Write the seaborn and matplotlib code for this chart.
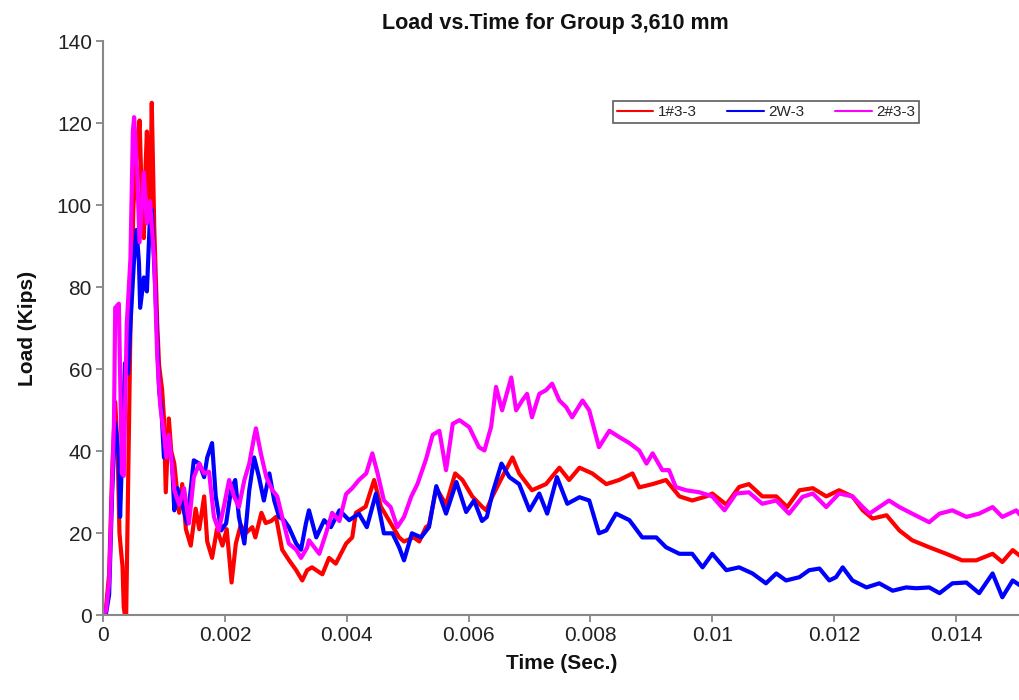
import numpy as np
import pandas as pd
import matplotlib
matplotlib.use("Agg")
import matplotlib.pyplot as plt
import seaborn as sns

# ---- data (time in ms, load in kips) ----
series_names = ["1#3-3", "2W-3", "2#3-3"]
series_colors = ["#FF0000", "#0000FF", "#FF00FF"]

t_red = [0, 0.05, 0.1, 0.15, 0.2, 0.24, 0.27, 0.3, 0.32, 0.34, 0.36, 0.38, 0.41, 0.45, 0.5, 0.55, 0.6, 0.63,
         0.67, 0.7, 0.72, 0.75, 0.77, 0.8, 0.84, 0.89, 0.92, 0.97, 1.0, 1.03, 1.08, 1.12, 1.17, 1.25, 1.3,
         1.36, 1.44, 1.52, 1.58, 1.66, 1.71, 1.79, 1.87, 1.96, 2.03, 2.11, 2.18, 2.26, 2.34, 2.45, 2.5, 2.6,
         2.67, 2.76, 2.84, 2.94, 3.05, 3.17, 3.27, 3.35, 3.43, 3.6, 3.71, 3.82, 3.99, 4.09, 4.15, 4.31, 4.45,
         4.56, 4.7, 4.86, 4.94, 5.1, 5.19, 5.3, 5.35, 5.47, 5.63, 5.78, 5.9, 6.06, 6.22, 6.29, 6.39, 6.55,
         6.72, 6.83, 7.04, 7.27, 7.49, 7.65, 7.82, 8.03, 8.26, 8.47, 8.69, 8.8, 9.02, 9.24, 9.46, 9.67, 9.9,
         10.0, 10.23, 10.44, 10.6, 10.82, 11.05, 11.23, 11.43, 11.65, 11.87, 12.08, 12.3, 12.47, 12.63,
         12.86, 13.07, 13.28, 13.56, 13.84, 14.1, 14.33, 14.6, 14.76, 14.93, 15.05]
y_red = [0, 2, 10, 35, 52, 40, 20, 15, 12, 2, 0, 0, 30, 70, 100, 112, 120.7, 105,
         92, 110, 118, 105, 97, 125, 95, 71, 61, 55, 48, 30, 48, 40, 37, 25, 32,
         21, 17, 26, 21, 29, 18, 14, 21, 17, 21, 8, 17.5, 22, 20, 21.5, 19, 25,
         22.5, 23, 24, 16, 13.5, 11, 8.5, 11, 11.7, 10, 14, 12.6, 17.5, 19, 25, 26.5, 33,
         26.5, 23, 19, 18, 19, 18, 21.5, 22, 31, 27, 34.6, 33, 29, 26.5, 25.6, 29, 33.7,
         38.5, 34.6, 30.5, 32, 36, 33, 36, 34.6, 32, 33, 34.6, 31.2, 32, 33, 29, 28, 29,
         29.7, 27, 31.3, 32, 29, 29, 26.4, 30.5, 31, 29, 30.5, 29, 25.6, 23.6,
         24.4, 20.7, 18.3, 16.6, 15, 13.4, 13.4, 15, 13, 15.9, 14.5]

t_blue = [0, 0.05, 0.1, 0.15, 0.2, 0.26, 0.28, 0.33, 0.36, 0.41, 0.45, 0.51, 0.55, 0.59, 0.61, 0.67, 0.72,
          0.77, 0.8, 0.86, 0.92, 0.96, 1.0, 1.08, 1.13, 1.17, 1.22, 1.3, 1.38, 1.49, 1.58, 1.66, 1.71, 1.79,
          1.85, 1.94, 2.02, 2.1, 2.17, 2.23, 2.32, 2.4, 2.48, 2.56, 2.64, 2.73, 2.81, 2.89, 2.97, 3.05, 3.17,
          3.25, 3.33, 3.38, 3.5, 3.63, 3.74, 3.88, 4.04, 4.2, 4.33, 4.48, 4.61, 4.75, 4.86, 4.94, 5.07, 5.22,
          5.35, 5.47, 5.63, 5.8, 5.96, 6.09, 6.22, 6.3, 6.39, 6.54, 6.67, 6.83, 7.0, 7.16, 7.29, 7.45, 7.62,
          7.82, 7.98, 8.14, 8.26, 8.42, 8.64, 8.85, 9.08, 9.24, 9.46, 9.67, 9.84, 10.0, 10.23, 10.44, 10.66,
          10.88, 11.05, 11.21, 11.43, 11.59, 11.76, 11.92, 12.03, 12.14, 12.3, 12.53, 12.74, 12.96, 13.18,
          13.35, 13.56, 13.73, 13.94, 14.17, 14.38, 14.6, 14.76, 14.93, 15.05]
y_blue = [0, 0.5, 5, 30, 47, 38.5, 24, 47, 61.5, 59, 71, 87, 94, 86, 75, 82.4, 79,
          97, 98.8, 79, 55, 50, 38.5, 42, 38, 25.6, 31, 27, 22.4, 37.8, 37, 33.7, 38.5, 42,
          29, 20.7, 22.4, 30.5, 33, 24, 17.5, 30.5, 38.5, 33.7, 28, 34.6, 28, 24, 23.2, 21.5, 17.5,
          16, 22.4, 25.6, 19, 23.2, 21.5, 25.6, 23.2, 24.8, 21.5, 29.7, 20, 20, 16.6, 13.4, 20, 19,
          21.5, 31.5, 24.8, 32.5, 25.2, 28, 23, 24, 29.7, 37, 33.7, 32, 25.6, 29.7, 24.8, 33.7, 27.2,
          28.8, 28, 20, 20.7, 24.8, 23.2, 19, 19, 16.6, 15, 15, 11.7, 15, 11, 11.7, 10.2,
          7.8, 10.2, 8.5, 9.3, 11, 11.4, 8.5, 9.3, 11.7, 8.5, 6.8, 7.8, 6, 6.8,
          6.6, 6.8, 5.4, 7.8, 8, 5.4, 10.2, 4.4, 8.5, 7.3]

t_mag = [0, 0.05, 0.1, 0.18, 0.2, 0.26, 0.31, 0.34, 0.39, 0.45, 0.49, 0.51, 0.56, 0.6, 0.67, 0.72, 0.77,
         0.84, 0.89, 0.94, 1.0, 1.04, 1.08, 1.12, 1.17, 1.25, 1.33, 1.41, 1.49, 1.58, 1.66, 1.74, 1.82, 1.9,
         1.99, 2.07, 2.15, 2.23, 2.32, 2.4, 2.48, 2.51, 2.59, 2.68, 2.78, 2.86, 2.94, 3.05, 3.17, 3.25, 3.35,
         3.38, 3.55, 3.66, 3.76, 3.88, 3.99, 4.09, 4.2, 4.32, 4.42, 4.5, 4.61, 4.72, 4.83, 4.94, 5.06, 5.16,
         5.3, 5.41, 5.52, 5.63, 5.74, 5.85, 6.01, 6.17, 6.26, 6.37, 6.45, 6.55, 6.7, 6.78, 6.88, 6.96, 7.04,
         7.16, 7.27, 7.37, 7.49, 7.6, 7.7, 7.87, 7.98, 8.14, 8.31, 8.47, 8.64, 8.8, 8.92, 9.02, 9.18, 9.29,
         9.4, 9.57, 9.79, 10.0, 10.2, 10.39, 10.6, 10.82, 11.05, 11.26, 11.48, 11.65, 11.87, 12.08, 12.3,
         12.47, 12.58, 12.74, 12.9, 13.07, 13.28, 13.56, 13.73, 13.94, 14.17, 14.38, 14.6, 14.76, 14.99, 15.05]
y_mag = [0, 1, 8, 47, 75, 76, 34.6, 34, 71, 87, 118, 121.5, 108, 91, 108, 95.6, 101,
         87, 63, 51, 44, 38.5, 44, 38.5, 30.5, 27, 31, 22.4, 33.7, 37, 34.6, 35, 24, 20.7,
         27, 33, 29, 26.4, 33, 37, 43.5, 45.6, 39.5, 33.7, 30.5, 29, 24, 17.5, 16, 14, 16.5,
         18.3, 15, 20, 25, 23, 29.6, 31, 33, 34.6, 39.5, 35, 28, 26.4, 21.5, 24, 29, 32,
         38, 44, 45, 35.4, 46.7, 47.6, 45.9, 41, 40.2, 46, 55.7, 50, 58, 50, 52.4, 54, 48.3,
         54, 54.9, 56.5, 52.4, 50.8, 48.3, 52.4, 50, 41, 45, 43.5, 42, 40.2, 37, 39.5, 35.4, 35.4,
         31.3, 30.5, 30, 29, 25.6, 29.7, 30, 27.2, 28, 24.8, 28.9, 29.7, 26.4, 29.7, 29,
         26.4, 24.8, 26.4, 28, 26.4, 24.8, 22.7, 24.8, 25.6, 24, 24.8, 26.4, 24, 25.6, 24.5]

x_ticks = [0, 0.002, 0.004, 0.006, 0.008, 0.010, 0.012, 0.014]
x_tick_labels = ["0", "0.002", "0.004", "0.006", "0.008", "0.01", "0.012", "0.014"]
y_ticks = [0, 20, 40, 60, 80, 100, 120, 140]

frames = []
for name, t, y in [(series_names[0], t_red, y_red),
                   (series_names[1], t_blue, y_blue),
                   (series_names[2], t_mag, y_mag)]:
    frames.append(pd.DataFrame({"Time": np.array(t) / 1000.0, "Load": y, "Series": name}))
df = pd.concat(frames, ignore_index=True)

sns.set_theme(style="white")
plt.rcParams["font.family"] = ["Liberation Sans", "DejaVu Sans"]

fig = plt.figure(figsize=(10.2, 7.0), dpi=100)
ax = fig.add_axes([0.101, 0.121, 0.899, 0.820])

sns.lineplot(data=df, x="Time", y="Load", hue="Series", hue_order=series_names,
             palette=series_colors, estimator=None, sort=False,
             linewidth=3.0, ax=ax, legend=False)

ax.set_xlim(0, 0.01505)
ax.set_ylim(0, 140)
ax.set_xticks(x_ticks)
ax.set_xticklabels(x_tick_labels)
ax.set_yticks(y_ticks)
ax.tick_params(axis="both", which="major", direction="out", length=5, width=1.3,
               color="#888888", labelsize=15, labelcolor="#222222", pad=3,
               bottom=True, left=True)

for side in ["top", "right"]:
    ax.spines[side].set_visible(False)
for side in ["left", "bottom"]:
    ax.spines[side].set_color("#888888")
    ax.spines[side].set_linewidth(1.5)

ax.set_xlabel("Time (Sec.)", fontsize=15, fontweight="bold", color="#111111", labelpad=6)
ax.set_ylabel("Load (Kips)", fontsize=15, fontweight="bold", color="#111111", labelpad=14)
fig.text(0.544, 0.967, "Load vs.Time for Group 3,610 mm", ha="center", va="center",
         fontsize=15.5, fontweight="bold", color="#111111")

from matplotlib.lines import Line2D
handles = [Line2D([0], [0], color=c, lw=1.5) for c in series_colors]
leg = fig.legend(handles, series_names, loc="center", bbox_to_anchor=(0.751, 0.840),
                 ncol=3, fontsize=11, frameon=True, fancybox=False, handlelength=2.4,
                 columnspacing=2.0, handletextpad=0.3, borderpad=0.25)
leg.get_frame().set_edgecolor("#333333")
leg.get_frame().set_linewidth(1.2)

fig.savefig("out.png", dpi=100)
